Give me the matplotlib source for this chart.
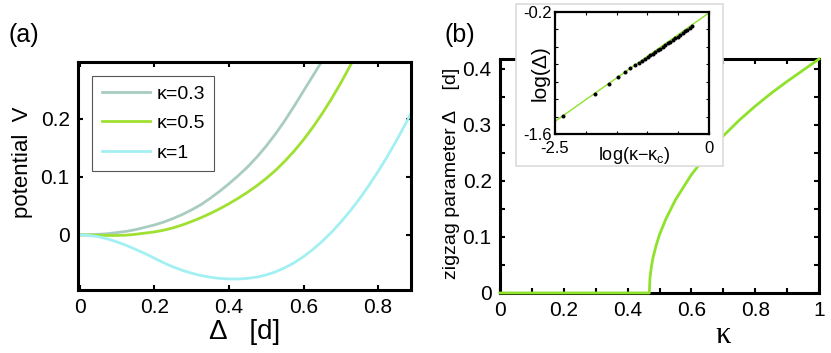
import numpy as np
import matplotlib
matplotlib.use("Agg")
import matplotlib.pyplot as plt
from matplotlib.patches import Rectangle

plt.rcParams['font.family'] = ['Liberation Sans', 'DejaVu Sans']
plt.rcParams['axes.unicode_minus'] = False

# ---- panel (a): potential V vs zigzag displacement ----
delta_a = [0.0, 0.025, 0.05, 0.075, 0.1, 0.125, 0.15, 0.175, 0.2, 0.225,
           0.25, 0.275, 0.3, 0.325, 0.35, 0.375, 0.4, 0.425, 0.45, 0.475,
           0.5, 0.525, 0.55, 0.575, 0.6, 0.625, 0.65, 0.675, 0.7, 0.725,
           0.75, 0.775, 0.8, 0.825, 0.85, 0.875, 0.89]
v_k03 = [0.0, 0.0002, 0.001, 0.002, 0.004, 0.006, 0.009, 0.013, 0.017, 0.022,
         0.028, 0.035, 0.043, 0.052, 0.063, 0.075, 0.088, 0.102, 0.117, 0.134,
         0.153, 0.174, 0.197, 0.222, 0.248, 0.274, 0.300, 0.327]
v_k05 = [0.0, -0.0002, -0.0006, -0.001, -0.001, -0.0005, 0.001, 0.003, 0.005, 0.008,
         0.012, 0.017, 0.023, 0.0295, 0.0368, 0.0448, 0.0536, 0.0631, 0.0734, 0.0847,
         0.0972, 0.1112, 0.127, 0.1445, 0.164, 0.1855, 0.209, 0.2345, 0.262, 0.2915,
         0.323]
v_k1 = [0.0, -0.001, -0.003, -0.007, -0.012, -0.018, -0.025, -0.032, -0.040, -0.048,
        -0.055, -0.061, -0.066, -0.070, -0.073, -0.075, -0.076, -0.076, -0.075, -0.0728,
        -0.069, -0.0637, -0.0567, -0.048, -0.0375, -0.0252, -0.0112, 0.0045, 0.022, 0.0412,
        0.0622, 0.085, 0.1095, 0.1357, 0.1637, 0.1935, 0.2124]
labels_a = ["\u03ba=0.3", "\u03ba=0.5", "\u03ba=1"]
colors_a = ["#a9ccc0", "#9fe030", "#a3f0f2"]

# ---- panel (b): zigzag parameter vs kappa ----
kappa_b = [0.0, 0.1, 0.2, 0.3, 0.4, 0.468, 0.47, 0.475, 0.48, 0.49, 0.50, 0.52,
           0.55, 0.6, 0.65, 0.7, 0.75, 0.8, 0.85, 0.9, 0.95, 1.0]
zig_b = [0.0, 0.0, 0.0, 0.0, 0.0, 0.0, 0.026, 0.049, 0.064, 0.086, 0.104, 0.132,
         0.166, 0.211, 0.247, 0.280, 0.308, 0.333, 0.356, 0.377, 0.397, 0.417]

# inset: log-log
log_dk = [-2.364, -1.853, -1.625, -1.473, -1.359, -1.277, -1.201, -1.136, -1.087,
          -1.04, -0.99, -0.95, -0.91, -0.87, -0.83, -0.79, -0.75, -0.71, -0.67,
          -0.63, -0.59, -0.55, -0.51, -0.47, -0.43, -0.39, -0.35, -0.31, -0.272]
log_zig = [-1.388, -1.137, -1.021, -0.948, -0.886, -0.848, -0.813, -0.782, -0.759,
           -0.741, -0.716, -0.697, -0.677, -0.658, -0.638, -0.619, -0.599, -0.580,
           -0.560, -0.541, -0.521, -0.501, -0.482, -0.462, -0.443, -0.423, -0.404,
           -0.384, -0.366]
fit_x = [-2.5, 0.0]
fit_y = [-1.455, -0.21]

fig = plt.figure(figsize=(8.31, 3.53), dpi=100)


def matlab_box(ax, lw=2.2, tlen=3.5):
    for s in ax.spines.values():
        s.set_linewidth(lw)
    ax.tick_params(which="both", direction="in", top=True, right=True,
                   length=tlen, width=1.5, labelsize=15, pad=6)
    ax.tick_params(which="minor", length=tlen)


# (a)
ax1 = fig.add_axes([0.0939, 0.1785, 0.4007, 0.6459])
for vals, lab, col in zip([v_k03, v_k05, v_k1], labels_a, colors_a):
    ax1.plot(delta_a[:len(vals)], vals, color=col, lw=2.0, label=lab)
ax1.set_xlim(-0.004, 0.888)
ax1.set_ylim(-0.095, 0.298)
ax1.set_xticks([0, 0.2, 0.4, 0.6, 0.8])
ax1.set_xticklabels(["0", "0.2", "0.4", "0.6", "0.8"])
ax1.set_yticks([0, 0.1, 0.2])
ax1.set_yticklabels(["0", "0.1", "0.2"])
matlab_box(ax1)
ax1.set_xlabel("\u0394   [d]", fontsize=20, labelpad=1)
ax1.set_ylabel("potential  V", fontsize=16)
ax1.yaxis.set_label_coords(-0.135, 0.56)
leg = ax1.legend(loc="upper left", bbox_to_anchor=(0.042, 0.94), borderaxespad=0,
                 fontsize=14, fancybox=False, framealpha=1, edgecolor="#555555",
                 handlelength=2.5, handletextpad=0.3, labelspacing=0.6,
                 borderpad=0.5)
leg.get_frame().set_linewidth(0.8)
fig.text(0.010, 0.88, "(a)", fontsize=18)

# (b)
ax2 = fig.add_axes([0.6017, 0.170, 0.3839, 0.6629])
ax2.plot(kappa_b, zig_b, color="#8fe22c", lw=2.0, clip_on=False, zorder=5)
ax2.set_xlim(0, 1)
ax2.set_ylim(0, 0.417)
ax2.set_xticks([0, 0.2, 0.4, 0.6, 0.8, 1.0])
ax2.set_xticklabels(["0", "0.2", "0.4", "0.6", "0.8", "1"])
ax2.set_xticks(np.arange(0.1, 1.0, 0.2), minor=True)
ax2.set_yticks([0, 0.1, 0.2, 0.3, 0.4])
ax2.set_yticklabels(["0", "0.1", "0.2", "0.3", "0.4"])
ax2.set_yticks([0.05, 0.15, 0.25, 0.35], minor=True)
matlab_box(ax2)
ax2.set_xlabel("\u03ba", fontsize=22, family=["Liberation Serif", "DejaVu Serif"])
ax2.xaxis.set_label_coords(0.70, -0.12)
ax2.set_ylabel("zigzag parameter \u0394    [d]", fontsize=14)
ax2.yaxis.set_label_coords(-0.125, 0.513)
fig.text(0.535, 0.88, "(b)", fontsize=18)

# inset background box
fig.patches.append(Rectangle((0.6209, 0.5297), 0.2491, 0.4589, transform=fig.transFigure,
                             facecolor="white", edgecolor="#dcdcdc", lw=1.2, zorder=1))

ax3 = fig.add_axes([0.6679, 0.6204, 0.1853, 0.3456], zorder=3)
ax3.plot(fit_x, fit_y, color="#8fe22c", lw=1.0)
ax3.plot(log_dk, log_zig, "o", color="black", ms=2.9, mew=0)
ax3.set_xlim(-2.5, 0)
ax3.set_ylim(-1.6, -0.2)
ax3.set_xticks(np.arange(-2.5, 0.01, 0.5))
ax3.set_xticklabels(["-2.5", "", "", "", "", "0"])
ax3.set_yticks(np.arange(-1.6, -0.19, 0.2))
ax3.set_yticklabels(["-1.6", "", "", "", "", "", "", "-0.2"])
for s in ax3.spines.values():
    s.set_linewidth(1.6)
ax3.tick_params(direction="in", top=True, right=True, length=2.5, width=0.8,
                labelsize=12, pad=2)
ax3.tick_params(axis="x", pad=5)
ax3.set_xlabel("log(\u03ba\u2212\u03ba$_\\mathregular{c}$)", fontsize=13)
ax3.xaxis.set_label_coords(0.513, -0.09)
ax3.set_ylabel("log(\u0394)", fontsize=15)
ax3.yaxis.set_label_coords(-0.035, 0.5)

fig.savefig("out.png", dpi=100)
